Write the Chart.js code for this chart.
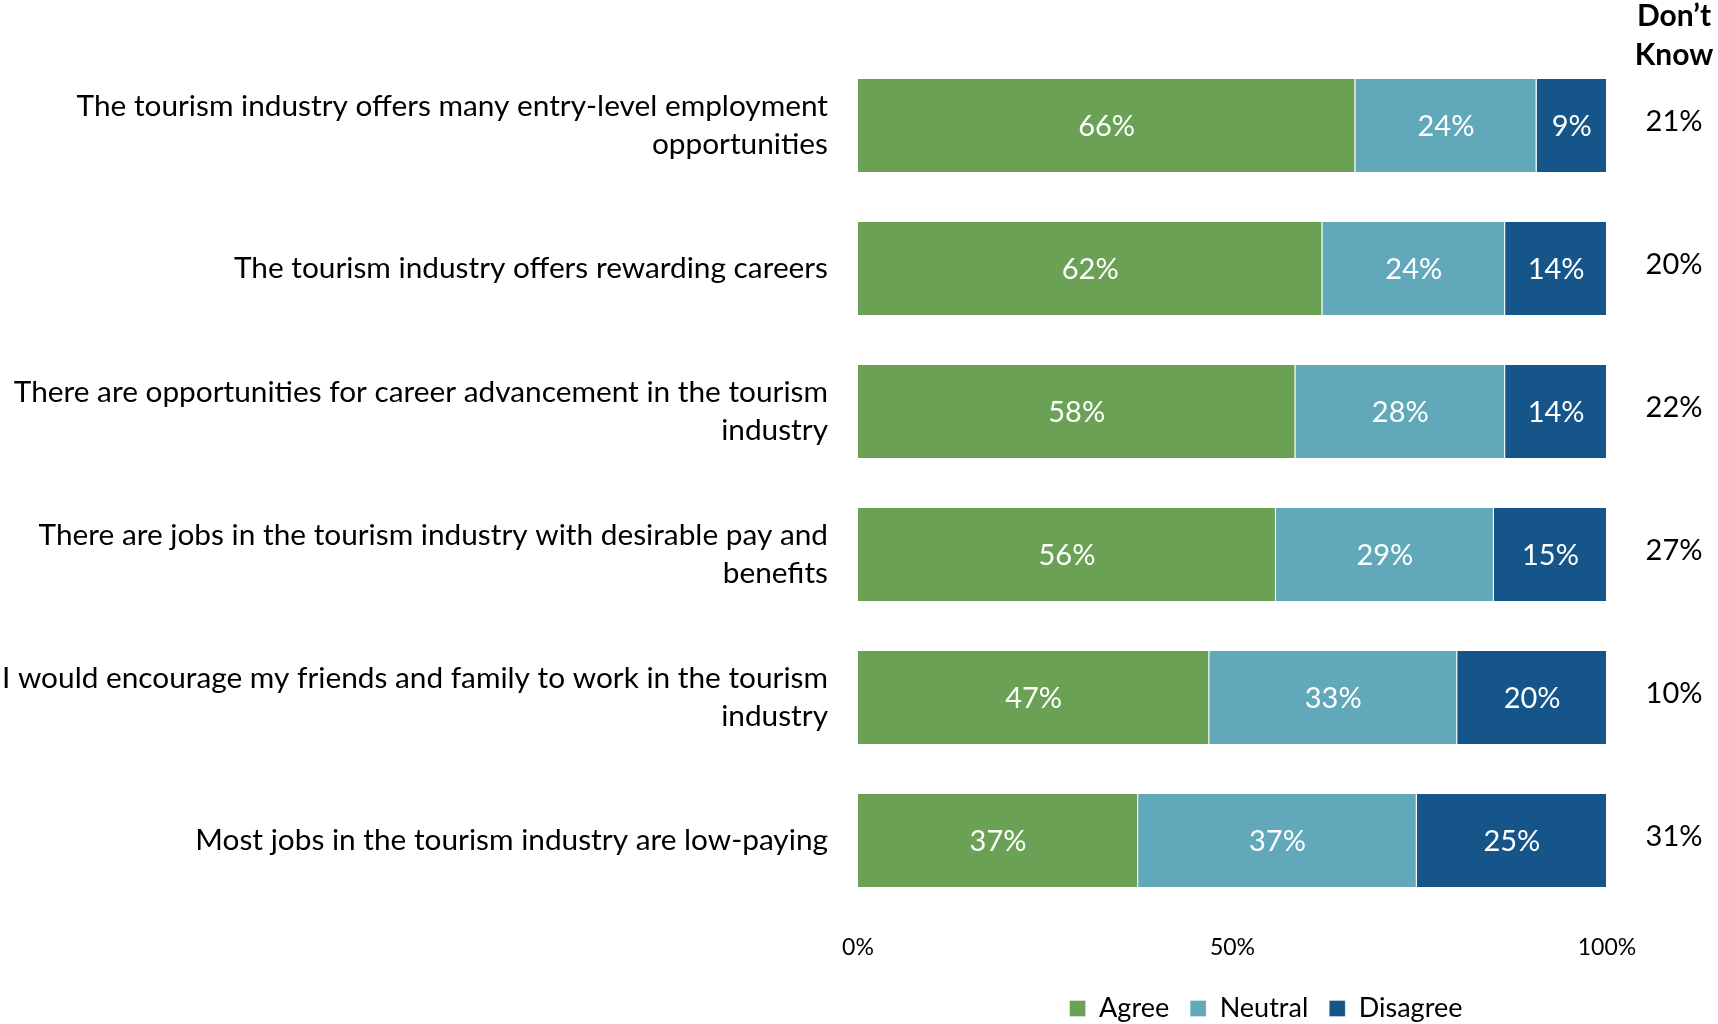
<!DOCTYPE html>
<html>
<head>
<meta charset="utf-8">
<script src="https://cdn.jsdelivr.net/npm/chart.js@4"></script>
<style>
html,body{margin:0;padding:0;background:#ffffff;}
#wrap{width:1718px;height:1024px;}
</style>
</head>
<body>
<div id="wrap"><canvas id="c" width="1718" height="1024"></canvas></div>
<script>
const categories = [
  ["The tourism industry offers many entry-level employment", "opportunities"],
  ["The tourism industry offers rewarding careers"],
  ["There are opportunities for career advancement in the tourism", "industry"],
  ["There are jobs in the tourism industry with desirable pay and", "benefits"],
  ["I would encourage my friends and family to work in the tourism", "industry"],
  ["Most jobs in the tourism industry are low-paying"]
];
const agree    = [66.4, 62.0, 58.4, 55.8, 46.9, 37.4];
const neutral  = [24.2, 24.4, 28.0, 29.1, 33.1, 37.2];
const disagree = [9.4, 13.6, 13.6, 15.1, 20.0, 25.4];
const dontKnow = [21, 20, 22, 27, 10, 31];
const xTicks = [0, 50, 100];
const seriesNames = ["Agree", "Neutral", "Disagree"];
const seriesColors = ["#6aa155", "#61a8ba", "#15558a"];

const FONT = "Lato";

const barLabels = {
  id: 'barLabels',
  afterDatasetsDraw(chart) {
    const ctx = chart.ctx;
    ctx.save();
    ctx.fillStyle = '#ffffff';
    ctx.font = '29px ' + FONT;
    ctx.textAlign = 'center';
    ctx.textBaseline = 'middle';
    chart.data.datasets.forEach((ds, i) => {
      const meta = chart.getDatasetMeta(i);
      meta.data.forEach((el, j) => {
        const cx = (el.x + el.base) / 2;
        ctx.fillText(Math.round(ds.data[j]) + '%', cx, el.y + 1);
      });
    });
    ctx.restore();
  }
};

const dontKnowCol = {
  id: 'dontKnowCol',
  afterDraw(chart) {
    const ctx = chart.ctx;
    const y = chart.scales.y;
    const cx = 1674;
    ctx.save();
    ctx.fillStyle = '#000000';
    ctx.textAlign = 'center';
    ctx.textBaseline = 'middle';
    ctx.font = 'bold 30px ' + FONT;
    ctx.fillText('Don\u2019t', cx, 16);
    ctx.fillText('Know', cx, 55);
    ctx.font = '29px ' + FONT;
    dontKnow.forEach((v, i) => {
      ctx.fillText(v + '%', cx, y.getPixelForValue(i) - 4);
    });
    ctx.restore();
  }
};

const legendShift = {
  id: 'legendShift',
  afterLayout(chart) {
    const lg = chart.legend;
    if (lg) {
      const dx = 1266 - (lg.left + lg.right) / 2;
      lg.left += dx; lg.right += dx;
      const dy = 1003 - (lg.top + lg.bottom) / 2;
      lg.top += dy; lg.bottom += dy;
    }
  }
};

new Chart(document.getElementById('c'), {
  type: 'bar',
  data: {
    labels: categories,
    datasets: [
      { label: seriesNames[0], data: agree, backgroundColor: seriesColors[0] },
      { label: seriesNames[1], data: neutral, backgroundColor: seriesColors[1] },
      { label: seriesNames[2], data: disagree, backgroundColor: seriesColors[2] }
    ].map(d => Object.assign(d, { borderColor: 'rgba(255,255,255,0.35)', borderWidth: 1, categoryPercentage: 0.665, barPercentage: 1.0 }))
  },
  options: {
    indexAxis: 'y',
    responsive: false,
    animation: false,
    layout: { padding: { top: 54, right: 111, left: 0, bottom: 0 } },
    scales: {
      x: {
        stacked: true,
        min: 0, max: 100,
        grid: { display: false, drawTicks: false },
        border: { display: false },
        afterBuildTicks(scale) { scale.ticks = xTicks.map(v => ({ value: v })); },
        afterFit(scale) {
          const lg = scale.chart.legend;
          const lh = lg && lg.height ? lg.height : 0;
          scale.height = Math.max(48, 1024 - 912 - lh);
        },
        ticks: {
          padding: 24,
          color: '#000000',
          font: { family: FONT, size: 23, lineHeight: 1.0 },
          callback: v => v + '%'
        }
      },
      y: {
        stacked: true,
        grid: { display: false, drawTicks: false },
        border: { display: false },
        afterFit(scale) { scale.width = 858; },
        ticks: {
          padding: 30,
          color: '#000000',
          font: { family: FONT, size: 29.8, lineHeight: 1.3 }
        }
      }
    },
    plugins: {
      legend: {
        position: 'bottom',
        labels: {
          color: '#000000',
          font: { family: FONT, size: 27 },
          boxWidth: 16,
          boxHeight: 16,
          padding: 21
        }
      },
      tooltip: { enabled: false }
    }
  },
  plugins: [barLabels, dontKnowCol, legendShift]
});
</script>
</body>
</html>
